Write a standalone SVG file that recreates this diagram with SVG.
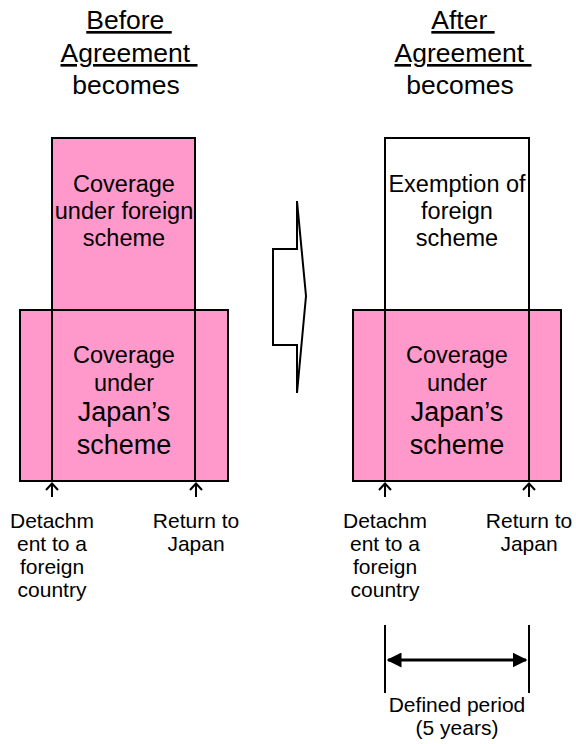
<svg xmlns="http://www.w3.org/2000/svg" width="576" height="744" viewBox="0 0 576 744">
<defs>
<style>
text{font-family:"Liberation Sans",Arial,sans-serif;fill:#000;text-anchor:middle}
.t{font-size:26.5px}
.u{text-decoration:underline}
.b{font-size:23.5px}
.j{font-size:27px}
.l{font-size:21px}
.p{font-size:21px}
.pink{fill:#FF99CC;stroke:#000;stroke-width:2}
.wh{fill:#fff;stroke:#000;stroke-width:2}
.ln{stroke:#000;stroke-width:2;fill:none}
.ar{stroke:#000;stroke-width:2;fill:none}
</style>
<marker id="tri" viewBox="0 0 10 10" refX="9" refY="5" markerWidth="5" markerHeight="5" orient="auto-start-reverse" markerUnits="strokeWidth">
<path d="M0,0 L10,5 L0,10 z" fill="#000"/>
</marker>
</defs>
<rect width="576" height="744" fill="#fff"/>

<g id="title-before">
<text class="t u" x="129" y="29" xml:space="preserve">Before </text>
<text class="t u" x="129" y="62" xml:space="preserve">Agreement </text>
<text class="t" x="126" y="94">becomes</text>
</g>
<g id="title-after">
<text class="t u" x="463" y="29" xml:space="preserve">After </text>
<text class="t u" x="463" y="62" xml:space="preserve">Agreement </text>
<text class="t" x="460" y="94">becomes</text>
</g>

<g id="before-japan">
<rect class="pink" x="20" y="310" width="208" height="171"/>
<line class="ln" x1="52" y1="310" x2="52" y2="481"/>
<line class="ln" x1="195" y1="310" x2="195" y2="481"/>
<text class="b" x="124" y="363">Coverage</text>
<text class="b" x="124" y="391">under</text>
<text class="j" x="124" y="421">Japan’s</text>
<text class="j" x="124" y="454">scheme</text>
</g>
<g id="before-foreign">
<rect class="pink" x="52" y="138" width="143" height="172"/>
<text class="b" x="124" y="192">Coverage</text>
<text class="b" x="124" y="219">under foreign</text>
<text class="b" x="124" y="246">scheme</text>
</g>

<g id="transition-arrow">
<polygon class="wh" points="297,201 306,296 297,393 297,345 273,345 273,249 297,249"/>
</g>

<g id="after-japan">
<rect class="pink" x="353" y="310" width="208" height="171"/>
<line class="ln" x1="385" y1="310" x2="385" y2="481"/>
<line class="ln" x1="529" y1="310" x2="529" y2="481"/>
<text class="b" x="457" y="363">Coverage</text>
<text class="b" x="457" y="391">under</text>
<text class="j" x="457" y="421">Japan’s</text>
<text class="j" x="457" y="454">scheme</text>
</g>
<g id="after-exemption">
<rect class="wh" x="385" y="138" width="144" height="172"/>
<text class="b" x="457" y="192">Exemption of</text>
<text class="b" x="457" y="219">foreign</text>
<text class="b" x="457" y="246">scheme</text>
</g>

<g id="label-detach-before">
<text class="l" x="52" y="528">Detachm</text>
<text class="l" x="52" y="551">ent to a</text>
<text class="l" x="52" y="574">foreign</text>
<text class="l" x="52" y="597">country</text>
</g>
<g id="label-return-before">
<text class="l" x="196" y="528">Return to</text>
<text class="l" x="196" y="551">Japan</text>
</g>
<g id="label-detach-after">
<text class="l" x="385" y="528">Detachm</text>
<text class="l" x="385" y="551">ent to a</text>
<text class="l" x="385" y="574">foreign</text>
<text class="l" x="385" y="597">country</text>
</g>
<g id="label-return-after">
<text class="l" x="529" y="528">Return to</text>
<text class="l" x="529" y="551">Japan</text>
</g>

<g id="period">
<line class="ln" x1="385" y1="625" x2="385" y2="693"/>
<line class="ln" x1="529" y1="625" x2="529" y2="693"/>
<text class="p" x="457" y="712">Defined period</text>
<text class="p" x="457" y="735">(5 years)</text>
</g>

<g id="connectors">
<path class="ar" d="M52,497 V484 M46,490 L52,483.5 L58,490"/>
<path class="ar" d="M196,497 V484 M190,490 L196,483.5 L202,490"/>
<path class="ar" d="M385,497 V484 M379,490 L385,483.5 L391,490"/>
<path class="ar" d="M529,497 V484 M523,490 L529,483.5 L535,490"/>
<line x1="388" y1="660" x2="526" y2="660" stroke="#000" stroke-width="3" marker-start="url(#tri)" marker-end="url(#tri)"/>
</g>
</svg>
